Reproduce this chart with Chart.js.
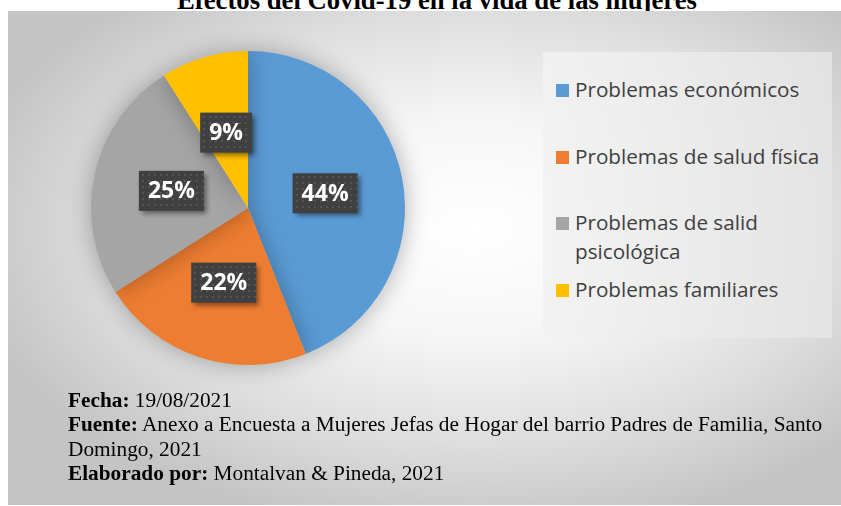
<!DOCTYPE html>
<html>
<head>
<meta charset="utf-8">
<script src="https://cdn.jsdelivr.net/npm/chart.js@4.4.0/dist/chart.umd.min.js"></script>
<style>
  body { margin: 0; width: 841px; height: 506px; background: #fff; position: relative; overflow: hidden; }
  #title { position: absolute; left: 0; width: 874px; top: -15px; text-align: center;
    font: bold 26.7px "Liberation Serif", "Times New Roman", serif; color: #000; }
  #panel { position: absolute; left: 8px; top: 11px; width: 833px; height: 494px;
    background: radial-gradient(ellipse 62% 62% at 56% 44%, #ffffff 0%, #f6f6f6 35%, #dedede 70%, #c4c4c4 100%); }
  #chartBox { position: absolute; left: 48px; top: 8px; width: 400px; height: 400px; }
  #legend { position: absolute; left: 543px; top: 52px; width: 289px; height: 286px;
    background: linear-gradient(to right, rgba(242,242,242,0.9), rgba(228,228,228,0.9)); }
  .item { position: absolute; left: 32px; font: 20.7px "Open Sans", "Noto Sans", sans-serif; color: #404040; line-height: 29px; }
  .item .sw { position: absolute; left: -19px; top: 9px; width: 13px; height: 13px; }
  #notes { position: absolute; left: 68px; top: 388px; font: 20px "Liberation Serif", "Times New Roman", serif;
    color: #000; line-height: 24.3px; white-space: nowrap; transform: scaleX(1.065); transform-origin: 0 0; }
</style>
</head>
<body>
<div id="title">Efectos del Covid-19 en la vida de las mujeres</div>
<div id="panel"></div>
<div id="chartBox"><canvas id="pie" width="400" height="400"></canvas></div>
<div id="legend"></div>
<div id="notes">
  <b>Fecha:</b> 19/08/2021<br>
  <b>Fuente:</b> Anexo a Encuesta a Mujeres Jefas de Hogar del barrio Padres de Familia, Santo<br>
  Domingo, 2021<br>
  <b>Elaborado por:</b> Montalvan &amp; Pineda, 2021
</div>
<script>
const categories = ['Problemas económicos', 'Problemas de salud física', 'Problemas de salid psicológica', 'Problemas familiares'];
const legendLines = [['Problemas económicos'], ['Problemas de salud física'], ['Problemas de salid', 'psicológica'], ['Problemas familiares']];
const percentValues = [44, 22, 25, 9];
const sliceColors = ['#5B9BD5', '#ED7D31', '#A5A5A5', '#FFC000'];

// legend built by hand (Excel style, wrapped item)
const legendTops = [23, 90, 156, 223];
const legend = document.getElementById('legend');
legendLines.forEach((lines, i) => {
  const d = document.createElement('div');
  d.className = 'item';
  d.style.top = legendTops[i] + 'px';
  d.innerHTML = '<span class="sw" style="background:' + sliceColors[i] + '"></span>' + lines.join('<br>');
  legend.appendChild(d);
});

// soft shadow behind the pie
const pieShadow = {
  id: 'pieShadow',
  beforeDatasetsDraw(chart) {
    const c = chart.ctx;
    c.save();
    c.shadowColor = 'rgba(0,0,0,0.3)';
    c.shadowBlur = 24;
    c.shadowOffsetX = 0;
    c.shadowOffsetY = 0;
  },
  afterDatasetsDraw(chart) {
    chart.ctx.restore();
  }
};

// dark percent boxes
const percentBoxes = {
  id: 'percentBoxes',
  afterDraw(chart) {
    const c = chart.ctx;
    const meta = chart.getDatasetMeta(0);
    c.save();
    c.font = 'bold 23px "Open Sans", "Noto Sans", sans-serif';
    c.textAlign = 'center';
    c.textBaseline = 'middle';
    meta.data.forEach((arc, i) => {
      const p = arc.getCenterPoint();
      const txt = percentValues[i] + '%';
      const w = c.measureText(txt).width + 18;
      const h = 40;
      const x = p.x - w / 2, y = p.y - h / 2;
      c.save();
      c.shadowColor = 'rgba(0,0,0,0.45)';
      c.shadowBlur = 5;
      c.shadowOffsetX = 3;
      c.shadowOffsetY = 3;
      c.fillStyle = '#404040';
      c.fillRect(x, y, w, h);
      c.restore();
      c.fillStyle = '#545454';
      for (let dx = 3; dx < w - 2; dx += 6) {
        for (let dy = 3; dy < h - 2; dy += 6) {
          c.fillRect(Math.round(x + dx), Math.round(y + dy), 2, 2);
        }
      }
      c.fillStyle = '#ffffff';
      c.fillText(txt, p.x, p.y + 1);
    });
    c.restore();
  }
};

new Chart(document.getElementById('pie').getContext('2d'), {
  type: 'pie',
  data: {
    labels: categories,
    datasets: [{
      data: percentValues,
      backgroundColor: sliceColors,
      borderWidth: 0,
    }],
  },
  options: {
    responsive: false,
    animation: false,
    layout: { padding: 43 },
    plugins: {
      legend: { display: false },
      tooltip: { enabled: false },
    },
  },
  plugins: [pieShadow, percentBoxes],
});
</script>
</body>
</html>
